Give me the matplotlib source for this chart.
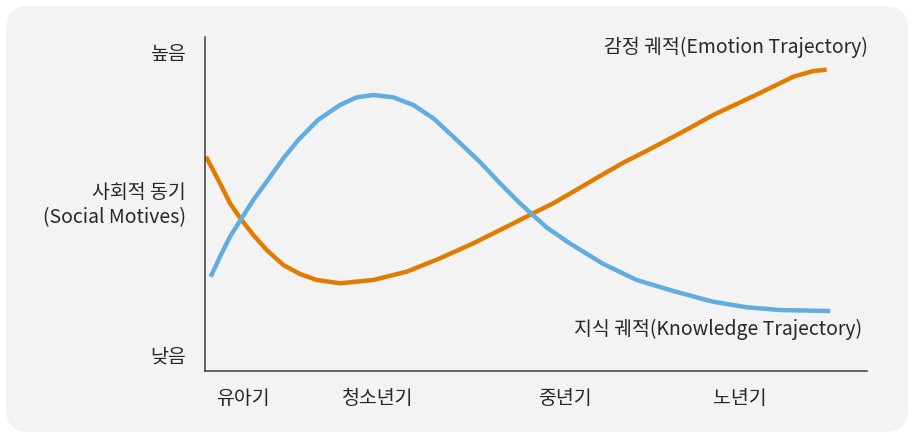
import matplotlib
matplotlib.use("Agg")
import matplotlib.pyplot as plt
from matplotlib.patches import FancyBboxPatch

plt.rcParams['font.family'] = ['Noto Sans CJK KR', 'DejaVu Sans']

# life stage axis (0-100) and social-motive level (0-100)
stage_labels = ["유아기", "청소년기", "중년기", "노년기"]
stage_pos = [5.7, 26.1, 54.4, 80.8]
level_labels = ["낮음", "사회적 동기\n(Social Motives)", "높음"]
level_pos = [4.8, 50.9, 95.5]

emotion_x = [0.15, 2.27, 3.78, 5.44, 7.30, 9.32, 11.83, 14.35, 16.87, 20.39,
             25.42, 30.47, 35.50, 40.53, 45.57, 49.35, 52.61, 55.63, 59.67,
             63.19, 66.96, 71.75, 76.78, 83.84, 88.87, 91.89, 93.91]
emotion_y = [64.16, 56.20, 50.21, 45.42, 40.72, 36.23, 31.74, 29.04, 27.25, 26.26,
             27.25, 29.73, 33.74, 38.23, 43.20, 47.01, 50.21, 53.68, 58.38,
             62.37, 66.17, 71.17, 76.65, 83.23, 88.11, 89.82, 90.21]

knowledge_x = [0.86, 2.27, 3.78, 5.44, 7.30, 9.32, 11.83, 14.09, 17.07, 20.39,
               22.92, 25.42, 28.44, 31.47, 34.49, 37.51, 41.54, 44.56, 47.58,
               49.35, 51.62, 55.14, 60.17, 65.21, 70.24, 74.77, 76.78, 81.83,
               86.86, 94.44]
knowledge_y = [28.23, 34.22, 40.21, 45.42, 51.20, 56.68, 63.68, 69.16, 75.15, 79.64,
               81.95, 82.63, 81.95, 79.64, 75.66, 70.15, 62.57, 56.20, 50.21,
               47.01, 42.96, 38.17, 32.04, 27.25, 24.25, 21.77, 20.75, 19.07,
               18.26, 17.96]

emotion_label = "감정 궤적(Emotion Trajectory)"
knowledge_label = "지식 궤적(Knowledge Trajectory)"

W, H = 914, 437
fig = plt.figure(figsize=(W / 100, H / 100), dpi=100)
fig.patch.set_facecolor("white")
bg = FancyBboxPatch((6 / W, 5 / H), (W - 12) / W, (H - 11) / H,
                    boxstyle="round,pad=0,rounding_size=0.025",
                    transform=fig.transFigure, facecolor="#f3f3f3",
                    edgecolor="none", mutation_aspect=W / H, zorder=-10)
fig.patches.append(bg)

ax = fig.add_axes([205 / W, (H - 371) / H, (867 - 205) / W, (371 - 37) / H])
ax.set_zorder(5)
ax.set_facecolor("none")
ax.set_xlim(0, 100)
ax.set_ylim(0, 100)
for s in ["top", "right"]:
    ax.spines[s].set_visible(False)
for s in ["left", "bottom"]:
    ax.spines[s].set_color("#3a3a3a")
    ax.spines[s].set_linewidth(1.1)

text_color = "#2b2526"
fs = 14
ax.set_xticks(stage_pos)
ax.set_xticklabels(stage_labels, fontsize=fs, color=text_color)
ax.set_yticks(level_pos)
ax.set_yticklabels(level_labels, fontsize=fs, color=text_color, linespacing=1.2)
ax.tick_params(axis="x", length=0, pad=12)
ax.tick_params(axis="y", length=0, pad=14)

ax.plot(emotion_x, emotion_y, color="#e27c00", lw=3.2, solid_capstyle="butt",
        solid_joinstyle="round", clip_on=False)
ax.plot(knowledge_x, knowledge_y, color="#62ade0", lw=3.2, solid_capstyle="butt",
        solid_joinstyle="round", clip_on=False)

ax.text(100.2, 97, emotion_label, ha="right", va="center", fontsize=fs,
        color=text_color, clip_on=False)
ax.text(99.2, 12.3, knowledge_label, ha="right", va="center", fontsize=fs,
        color=text_color, clip_on=False)

fig.savefig("out.png", dpi=100)
